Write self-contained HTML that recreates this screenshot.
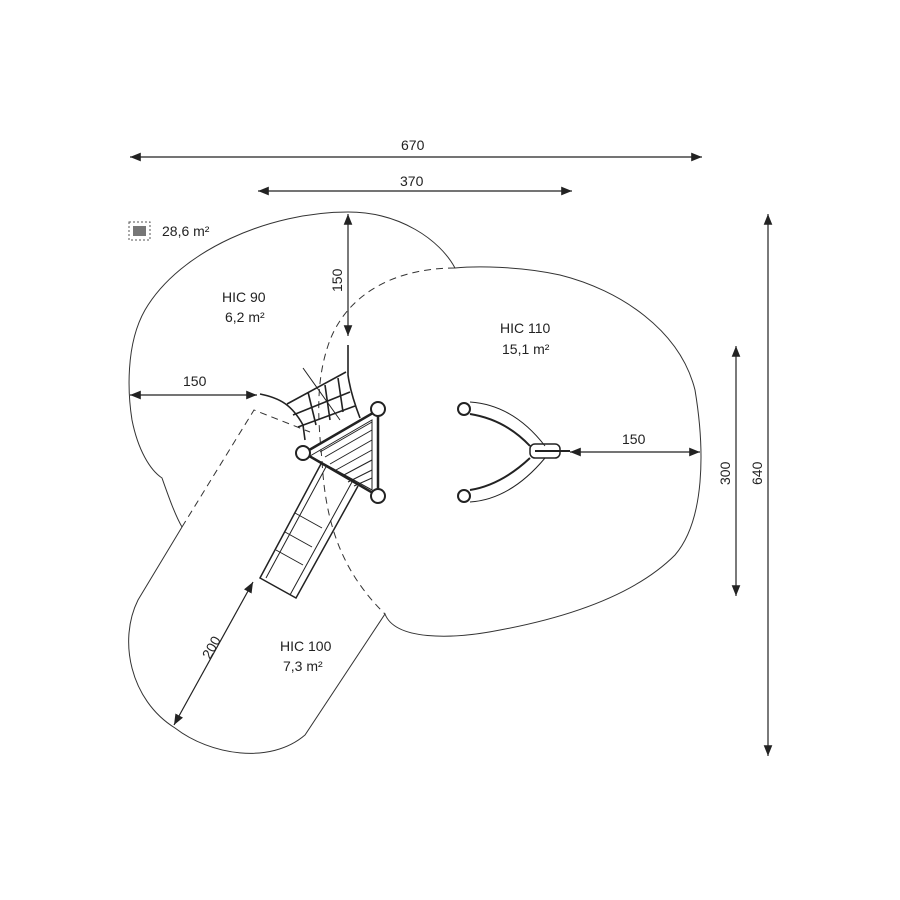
<!DOCTYPE html>
<html><head><meta charset="utf-8"><style>
html,body{margin:0;padding:0;background:#fff}
svg{display:block}
text{font-family:"Liberation Sans","DejaVu Sans",sans-serif;font-size:14px;fill:#222}
</style></head><body>
<svg width="900" height="900" viewBox="0 0 900 900" xmlns="http://www.w3.org/2000/svg">
<defs>
<marker id="a" viewBox="0 0 10 10" refX="10" refY="5" markerWidth="9" markerHeight="9" orient="auto-start-reverse"><path d="M0,1 L10,5 L0,9 z" fill="#222"/></marker>
</defs>
<g fill="none" stroke="#333" stroke-width="1">
<!-- outer outline -->
<path d="M455,268 C440,240 400,212 348,212 C270,212 180,250 145,310 C125,345 128,395 132,420 C138,450 150,470 162,478 C168,495 175,515 182,527 L138,600 C118,640 130,700 175,728 C210,755 270,765 305,735 L385,614 C395,640 450,640 500,630 C580,615 640,590 675,555 C705,520 705,450 695,390 C680,330 620,290 560,275 C520,266 475,266 455,268 Z"/>
<!-- dashed interior -->
<path stroke-dasharray="7,5" d="M455,268 C400,268 350,290 330,340 C315,380 318,420 322,460 C325,520 340,570 385,614"/>
<path stroke-dasharray="7,5" d="M182,527 L254,410 L310,432"/>
</g>
<!-- small legend icon -->
<rect x="129" y="222" width="21" height="18" fill="none" stroke="#555" stroke-dasharray="2,2"/>
<rect x="133" y="226" width="13" height="10" fill="#777"/>
<text x="162" y="236">28,6 m²</text>
<!-- dims -->
<g stroke="#222" stroke-width="1.2">
<line x1="130" y1="157" x2="702" y2="157" marker-start="url(#a)" marker-end="url(#a)"/>
<line x1="258" y1="191" x2="572" y2="191" marker-start="url(#a)" marker-end="url(#a)"/>
<line x1="348" y1="214" x2="348" y2="336" marker-start="url(#a)" marker-end="url(#a)"/>
<line x1="130" y1="395" x2="257" y2="395" marker-start="url(#a)" marker-end="url(#a)"/>
<line x1="570" y1="452" x2="700" y2="452" marker-start="url(#a)" marker-end="url(#a)"/>
<line x1="736" y1="346" x2="736" y2="596" marker-start="url(#a)" marker-end="url(#a)"/>
<line x1="768" y1="214" x2="768" y2="756" marker-start="url(#a)" marker-end="url(#a)"/>
<line x1="253" y1="582" x2="174" y2="725" marker-start="url(#a)" marker-end="url(#a)"/>
</g>
<text x="401" y="150">670</text>
<text x="400" y="186">370</text>
<text x="183" y="386">150</text>
<text x="622" y="444">150</text>
<text transform="translate(342,292) rotate(-90)">150</text>
<text transform="translate(730,485) rotate(-90)">300</text>
<text transform="translate(762,485) rotate(-90)">640</text>
<text transform="translate(210,660) rotate(-61)">200</text>
<text x="222" y="302">HIC 90</text>
<text x="225" y="322">6,2 m²</text>
<text x="500" y="333">HIC 110</text>
<text x="502" y="354">15,1 m²</text>
<text x="280" y="651">HIC 100</text>
<text x="283" y="671">7,3 m²</text>
<!-- net -->
<g fill="none" stroke="#222" stroke-width="1.6">
<path d="M260,394 C280,398 292,405 303,425 L305,440"/>
<path d="M348,345 L348,375 C350,390 355,405 360,418"/>
<path d="M287,404 L346,372 M293,415 L350,392 M298,427 L355,406"/>
<path d="M308,392 L316,425 M325,385 L330,420 M338,378 L343,412"/>
<line x1="303" y1="368" x2="340" y2="420" stroke-width="1"/>
</g>
<!-- deck triangle -->
<g stroke="#222" fill="none">
<path d="M304,453 L378,410 L378,496 Z" stroke-width="2.5"/>
<path d="M310,456 L372,420 L372,490 Z" stroke-width="1"/>
<g stroke-width="1">
<line x1="325" y1="457" x2="372" y2="430"/><line x1="330" y1="464" x2="372" y2="440"/>
<line x1="336" y1="470" x2="372" y2="450"/><line x1="342" y1="476" x2="372" y2="460"/>
<line x1="348" y1="482" x2="372" y2="470"/><line x1="354" y1="486" x2="372" y2="478"/>
<line x1="320" y1="452" x2="372" y2="422"/>
</g>
<!-- slide -->
<path d="M322,462 L260,578 L296,598 L358,486" stroke-width="1.5"/>
<path d="M327,465 L266,578 M352,482 L290,595" stroke-width="1"/>
<line x1="276" y1="550" x2="303" y2="565" stroke-width="1"/>
<line x1="285" y1="532" x2="312" y2="547" stroke-width="1"/>
<line x1="295" y1="513" x2="322" y2="528" stroke-width="1"/>
</g>
<g fill="#fff" stroke="#222" stroke-width="2">
<circle cx="378" cy="409" r="7"/><circle cx="378" cy="496" r="7"/><circle cx="303" cy="453" r="7"/>
</g>
<!-- swing -->
<g fill="none" stroke="#222">
<path d="M470,402 C500,404 525,420 545,446" stroke-width="1"/>
<path d="M470,414 C495,418 515,430 530,446" stroke-width="2"/>
<path d="M470,502 C500,500 525,482 545,458" stroke-width="1"/>
<path d="M470,490 C495,486 515,472 530,458" stroke-width="2"/>
<rect x="530" y="444" width="30" height="14" rx="5" stroke-width="1.5"/>
<line x1="535" y1="451" x2="570" y2="451" stroke-width="2"/>
</g>
<g fill="#fff" stroke="#222" stroke-width="2">
<circle cx="464" cy="409" r="6"/><circle cx="464" cy="496" r="6"/>
</g>
</svg>
</body></html>
